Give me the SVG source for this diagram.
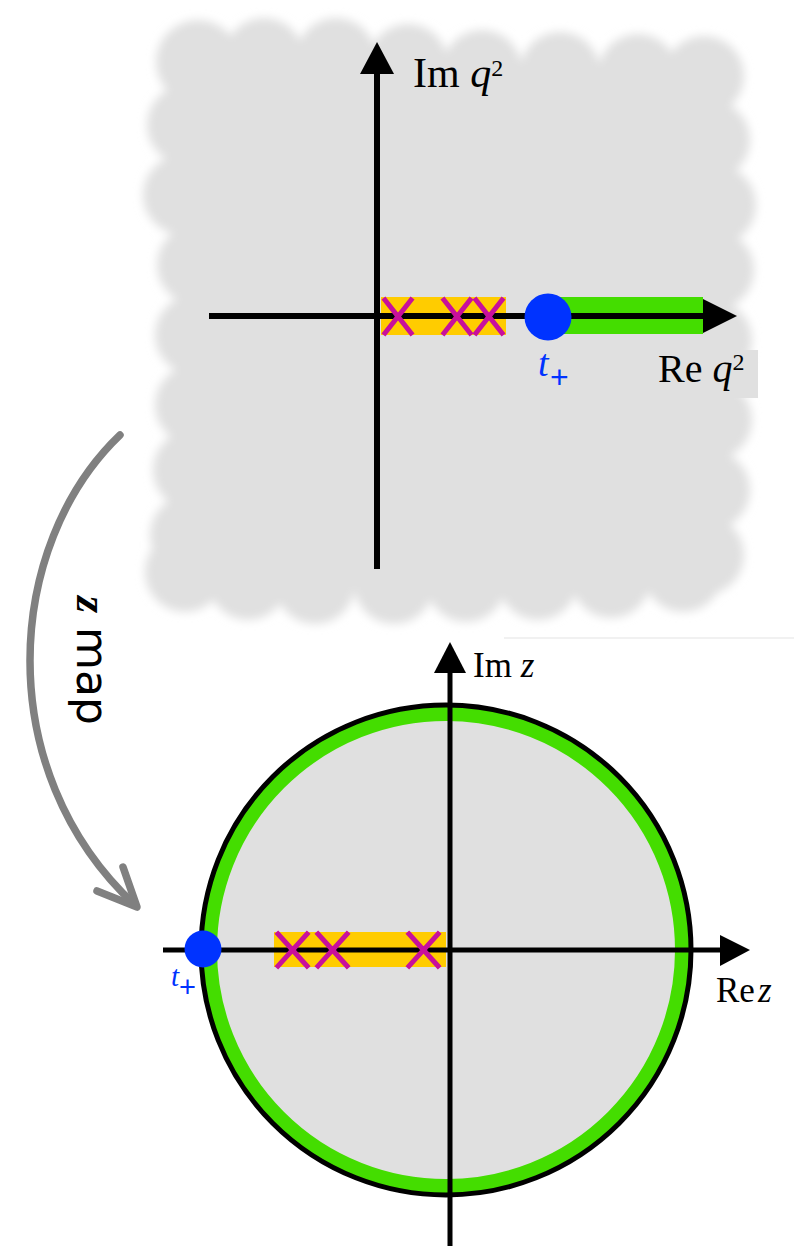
<svg xmlns="http://www.w3.org/2000/svg" width="794" height="1246" viewBox="0 0 794 1246">
<style>
.ax{stroke:#000;stroke-width:6;fill:none}
.axb{stroke:#000;stroke-width:5;fill:none}
.cr{stroke:#c8109c;stroke-width:5;stroke-linecap:square}
.lbl{font-family:"Liberation Serif",serif;fill:#000}
.it{font-style:italic}
.tp{font-family:"Liberation Serif",serif;font-style:italic;fill:#0033ff}
.pl{font-family:"Liberation Sans",sans-serif;fill:#0033ff}
.cl circle{fill:#e0e0e0}
</style>
<defs>
<filter id="blur" x="-10%" y="-10%" width="120%" height="120%"><feGaussianBlur stdDeviation="5"/></filter>
</defs>
<rect width="794" height="1246" fill="#fff"/>
<g id="qplane-bg">
<g class="cl" filter="url(#blur)">
<rect x="190" y="62" width="522" height="516" fill="#e0e0e0"/>
<circle cx="198" cy="62" r="42"/><circle cx="264" cy="58" r="40"/><circle cx="336" cy="58" r="40"/><circle cx="408" cy="64" r="40"/><circle cx="482" cy="70" r="40"/><circle cx="560" cy="72" r="40"/><circle cx="638" cy="74" r="40"/><circle cx="704" cy="76" r="40"/>
<circle cx="187" cy="125" r="40"/><circle cx="183" cy="195" r="40"/><circle cx="197" cy="265" r="40"/><circle cx="195" cy="335" r="40"/><circle cx="195" cy="405" r="40"/><circle cx="193" cy="470" r="40"/><circle cx="190" cy="535" r="40"/>
<circle cx="185" cy="572" r="40"/><circle cx="248" cy="580" r="40"/><circle cx="315" cy="584" r="40"/><circle cx="394" cy="584" r="40"/><circle cx="466" cy="582" r="40"/><circle cx="538" cy="580" r="40"/><circle cx="611" cy="578" r="40"/><circle cx="683" cy="572" r="40"/>
<circle cx="710" cy="140" r="40"/><circle cx="716" cy="205" r="40"/><circle cx="714" cy="270" r="40"/><circle cx="712" cy="340" r="40"/><circle cx="712" cy="420" r="40"/><circle cx="710" cy="490" r="40"/><circle cx="704" cy="555" r="40"/>
</g>
<rect x="650" y="350" width="108" height="48" fill="#e0e0e0"/>
<line x1="504" y1="638" x2="794" y2="638" stroke="#ececec" stroke-width="1.5"/>
</g>
<g id="qplane">
<rect x="381" y="297" width="125" height="38" fill="#ffcc00"/>
<rect x="560" y="297" width="143" height="37" fill="#44dd00"/>
<line class="ax" x1="377" y1="569" x2="377" y2="72"/>
<polygon points="377,42 360,74 394,74" fill="#000"/>
<line class="ax" x1="209" y1="316" x2="704" y2="316"/>
<polygon points="703,299 737,316 703,333" fill="#000"/>
<g class="cr">
<path d="M385,300 L411,333 M411,300 L385,333"/>
<path d="M444,300 L470,333 M470,300 L444,333"/>
<path d="M476,300 L502,333 M502,300 L476,333"/>
</g>
<circle cx="548" cy="317" r="23.5" fill="#0033ff"/>
<text class="tp" x="538" y="376" font-size="38">t</text>
<text class="pl" x="550" y="388" font-size="32">+</text>
<text class="lbl" x="413" y="87" font-size="42">Im <tspan class="it">q</tspan><tspan font-size="24" dy="-11">2</tspan></text>
<text class="lbl" x="658" y="382" font-size="40">Re <tspan class="it">q</tspan><tspan font-size="24" dy="-12">2</tspan></text>
</g>
<g id="connectors">
<path d="M120,435 C5,545 -10,770 135,905" fill="none" stroke="#808080" stroke-width="7.5" stroke-linecap="round"/>
<path d="M97,891 L137,907 L123,867" fill="none" stroke="#808080" stroke-width="7.5" stroke-linecap="round" stroke-linejoin="round"/>
<text transform="translate(77,596) rotate(90)" font-size="44"><tspan font-family="Liberation Serif,serif" font-weight="bold" font-style="italic">z</tspan><tspan font-family="DejaVu Sans,sans-serif"> map</tspan></text>
</g>
<g id="zplane">
<circle cx="446" cy="950" r="237" fill="#e0e0e0" stroke="#44dd00" stroke-width="16"/>
<circle cx="446" cy="950" r="245" fill="none" stroke="#000" stroke-width="5"/>
<rect x="274" y="932" width="172" height="35" fill="#ffcc00"/>
<line class="axb" x1="163" y1="950" x2="721" y2="950"/>
<polygon points="720,935 750,950 720,966" fill="#000"/>
<line class="axb" x1="450" y1="1246" x2="450" y2="670"/>
<polygon points="434,673 450,642 466,673" fill="#000"/>
<g class="cr">
<path d="M278,934 L307,966 M307,934 L278,966"/>
<path d="M318,934 L347,966 M347,934 L318,966"/>
<path d="M409,934 L438,966 M438,934 L409,966"/>
</g>
<circle cx="203" cy="949" r="18.5" fill="#0033ff"/>
<text class="tp" x="171" y="986" font-size="29">t</text>
<text class="pl" x="179" y="997" font-size="29">+</text>
<text class="lbl" x="473" y="677" font-size="35">Im <tspan class="it">z</tspan></text>
<text class="lbl" x="716" y="1002" font-size="35">Re<tspan class="it" dx="3">z</tspan></text>
</g>
</svg>
